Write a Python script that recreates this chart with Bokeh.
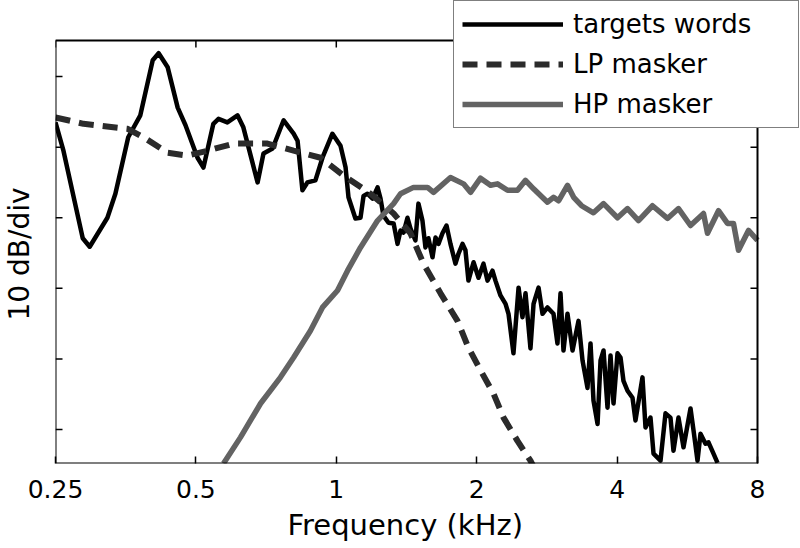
import math
from bokeh.plotting import figure
from bokeh.models import Range1d, FixedTicker, Legend, LegendItem, Title
from bokeh.core.properties import value
from bokeh.embed import file_html
from bokeh.resources import INLINE

FONT = "DejaVu Sans"

# ---------------- data (frequency in kHz, level in dB) ----------------
x_ticks = [0.25, 0.5, 1, 2, 4, 8]
x_tick_labels = ["0.25", "0.5", "1", "2", "4", "8"]
y_ticks = [0, 10, 20, 30, 40, 50]
x_lo, x_hi = 0.25, 8.0      # axis box limits (kHz)
y_lo, y_hi = -4.8, 55.1     # axis box limits (dB)
x_label = "Frequency (kHz)"
y_label = "10 dB/div"

target_khz = [0.25, 0.260, 0.286, 0.296, 0.323, 0.336, 0.358, 0.380, 0.404, 0.416,
              0.435, 0.457, 0.475, 0.504, 0.519, 0.545, 0.559, 0.584, 0.614, 0.632,
              0.678, 0.698, 0.730, 0.771, 0.810, 0.826, 0.846, 0.867, 0.902, 0.934,
              0.981, 1.021, 1.047, 1.062, 1.099, 1.127, 1.144, 1.166, 1.196, 1.226,
              1.244, 1.262, 1.294, 1.327, 1.353, 1.373, 1.394, 1.421, 1.442, 1.478,
              1.500, 1.530, 1.553, 1.576, 1.608, 1.632, 1.656, 1.689, 1.723, 1.757,
              1.801, 1.828, 1.865, 1.892, 1.920, 1.969, 2.018, 2.068, 2.110, 2.162,
              2.194, 2.249, 2.306, 2.340, 2.398, 2.459, 2.507, 2.545, 2.608, 2.648,
              2.714, 2.768, 2.837, 2.922, 2.980, 3.025, 3.070, 3.131, 3.210, 3.306,
              3.372, 3.456, 3.508, 3.560, 3.632, 3.686, 3.741, 3.815, 3.872, 3.930,
              4.008, 4.068, 4.128, 4.211, 4.316, 4.380, 4.534, 4.602, 4.717, 4.788,
              4.956, 5.080, 5.206, 5.284, 5.416, 5.552, 5.747, 5.833, 5.949, 6.038,
              6.188, 6.281, 6.438, 6.567]
target_db = [43.5, 39.5, 27.1, 25.9, 30.0, 33.4, 41.4, 44.5, 52.3, 53.3,
             51.3, 45.6, 43.1, 38.5, 37.1, 43.3, 44.0, 43.5, 44.5, 42.8,
             35.0, 39.1, 39.8, 43.8, 41.9, 40.9, 33.9, 35.0, 35.3, 38.5,
             41.9, 40.2, 37.1, 32.9, 29.9, 30.0, 33.1, 33.4, 32.7, 34.3,
             32.7, 30.3, 29.3, 29.2, 26.3, 28.2, 27.9, 30.0, 28.5, 26.8,
             32.0, 29.6, 25.8, 27.1, 24.4, 27.2, 26.3, 27.8, 28.9, 26.3,
             23.5, 24.9, 26.3, 25.4, 21.1, 23.7, 21.5, 23.5, 21.1, 22.5,
             21.1, 19.0, 17.8, 16.4, 10.8, 20.1, 15.9, 19.3, 11.5, 17.8,
             20.1, 16.4, 17.3, 16.4, 12.2, 19.3, 11.2, 16.4, 11.2, 15.4,
             9.8, 5.9, 12.2, 4.1, 0.8, 9.8, 11.2, 3.1, 10.5, 3.7,
             10.8, 10.2, 6.9, 5.5, 4.5, 1.3, 7.4, 0.3, 1.7, -3.4,
             -4.4, 2.3, 1.7, -3.0, 1.7, -2.5, 3.0, -0.1, -4.4, -0.6,
             -2.0, -1.8, -3.4, -4.7]

lp_khz = [0.25, 0.287, 0.357, 0.386, 0.435, 0.480, 0.530, 0.602, 0.712, 0.810,
          0.925, 1.036, 1.184, 1.327, 1.442, 1.538, 1.673, 1.819, 1.920, 2.038,
          2.173, 2.283, 2.446, 2.608, 2.674]
lp_db = [44.2, 43.3, 42.6, 41.4, 39.2, 38.8, 39.5, 40.5, 40.5, 39.5,
         38.5, 36.0, 33.4, 30.6, 27.8, 23.5, 19.3, 15.4, 11.6, 8.4,
         5.1, 1.7, -1.6, -4.4, -5.8]

hp_khz = [0.573, 0.623, 0.688, 0.759, 0.810, 0.880, 0.934, 1.006, 1.057,
          1.127, 1.226, 1.327, 1.373, 1.464, 1.569, 1.616, 1.757, 1.874, 1.940,
          2.038, 2.141, 2.216, 2.329, 2.446, 2.545, 2.648, 2.837, 2.922, 2.996,
          3.131, 3.228, 3.356, 3.560, 3.741, 4.008, 4.211, 4.446, 4.764, 5.130,
          5.416, 5.747, 6.128, 6.250, 6.599, 6.898, 7.106, 7.284, 7.652, 8.0]
hp_db = [-4.8, -1.1, 3.7, 7.4, 10.2, 14.0, 17.3, 19.7, 22.5,
         25.8, 29.6, 32.0, 33.4, 34.3, 34.3, 33.6, 35.7, 34.8, 33.6,
         35.6, 34.6, 34.8, 33.9, 33.9, 35.3, 34.1, 32.2, 32.9, 32.4,
         34.6, 32.9, 31.7, 30.7, 32.0, 30.0, 31.3, 29.6, 31.7, 29.9,
         31.3, 28.9, 30.6, 27.8, 31.0, 29.2, 29.2, 25.4, 28.2, 26.8]

series_names = ["targets words", "LP masker", "HP masker"]

# ---------------- layout ----------------
W, H = 800, 548
BOX_L, BOX_R, BOX_T, BOX_B = 55, 757, 40, 463     # axis box in pixels
FRAME_R = 799                                      # frame extends right/up so the legend can overlap
box_w, box_h = BOX_R - BOX_L, BOX_B - BOX_T
x_end = x_hi * (x_hi / x_lo) ** ((FRAME_R - BOX_R) / box_w)
y_end = y_hi + (y_hi - y_lo) * BOX_T / box_h

p = figure(width=W, height=H, x_axis_type="log",
           x_range=Range1d(x_lo, x_end), y_range=Range1d(y_lo, y_end),
           output_backend="svg", toolbar_location=None,
           min_border_left=BOX_L, min_border_right=W - FRAME_R,
           min_border_top=0, min_border_bottom=H - BOX_B)
p.grid.visible = False
p.background_fill_color = "white"
p.border_fill_color = "white"
p.outline_line_color = None

r1 = p.line(target_khz, target_db, line_color="black", line_width=4.5, line_join="round")
r2 = p.line(lp_khz, lp_db, line_color="#2b2b2b", line_width=6, line_dash="15 9")
r3 = p.line(hp_khz, hp_db, line_color="#636363", line_width=5.5, line_join="round")

# axis box
p.line([x_lo, x_hi, x_hi, x_lo, x_lo], [y_lo, y_lo, y_hi, y_hi, y_lo],
       line_color="black", line_width=2)
# inward ticks on the top, right and left sides of the box
p.ray(x=x_ticks, y=[y_hi] * len(x_ticks), length=7, length_units="screen",
      angle=-math.pi / 2, line_color="black", line_width=1.5)
p.ray(x=[x_hi] * len(y_ticks), y=y_ticks, length=7, length_units="screen",
      angle=math.pi, line_color="black", line_width=1.5)
p.ray(x=[x_lo] * len(y_ticks), y=y_ticks, length=7, length_units="screen",
      angle=0, line_color="black", line_width=1.5)

xa = p.xaxis[0]
xa.ticker = FixedTicker(ticks=x_ticks)
xa.major_label_overrides = {t: s for t, s in zip(x_ticks, x_tick_labels)}
xa.major_label_text_font = FONT
xa.major_label_text_font_size = "25px"
xa.major_label_text_color = "black"
xa.major_label_standoff = 16
xa.axis_line_color = None
xa.major_tick_in = 7
xa.major_tick_out = 0
xa.major_tick_line_color = "black"
xa.major_tick_line_width = 1.5
xa.minor_tick_line_color = None

# left axis only reserves the gap between the box and its title (ticks drawn above)
ya = p.yaxis[0]
ya.ticker = FixedTicker(ticks=y_ticks)
ya.major_label_text_font_size = "0px"
ya.major_label_text_color = None
ya.major_label_standoff = 0
ya.axis_line_color = None
ya.major_tick_line_color = None
ya.major_tick_in = 0
ya.major_tick_out = 20
ya.minor_tick_line_color = None

# axis titles, centred on the axis box (not on the wider frame)
x_title = Title(text=x_label, align="left", offset=232, text_font=FONT,
                text_font_size="29px", text_font_style="normal", text_color="black",
                standoff=10)
p.add_layout(x_title, "below")
y_title = Title(text=y_label, align="left", offset=143, text_font=FONT,
                text_font_size="28px", text_font_style="normal", text_color="black",
                standoff=0)
p.add_layout(y_title, "left")

legend = Legend(items=[LegendItem(label=value(series_names[0]), renderers=[r1]),
                       LegendItem(label=value(series_names[1]), renderers=[r2]),
                       LegendItem(label=value(series_names[2]), renderers=[r3])],
                location=(453 - BOX_L, BOX_B - 128), padding=8, spacing=10, margin=0,
                glyph_width=101, glyph_height=30, label_height=30, label_width=217,
                label_standoff=10, label_text_font=FONT, label_text_font_size="26px",
                label_text_color="black",
                border_line_color="black", border_line_width=1.5,
                background_fill_color="white", background_fill_alpha=1.0)
p.add_layout(legend)

open("out.html", "w").write(file_html(p, INLINE))
